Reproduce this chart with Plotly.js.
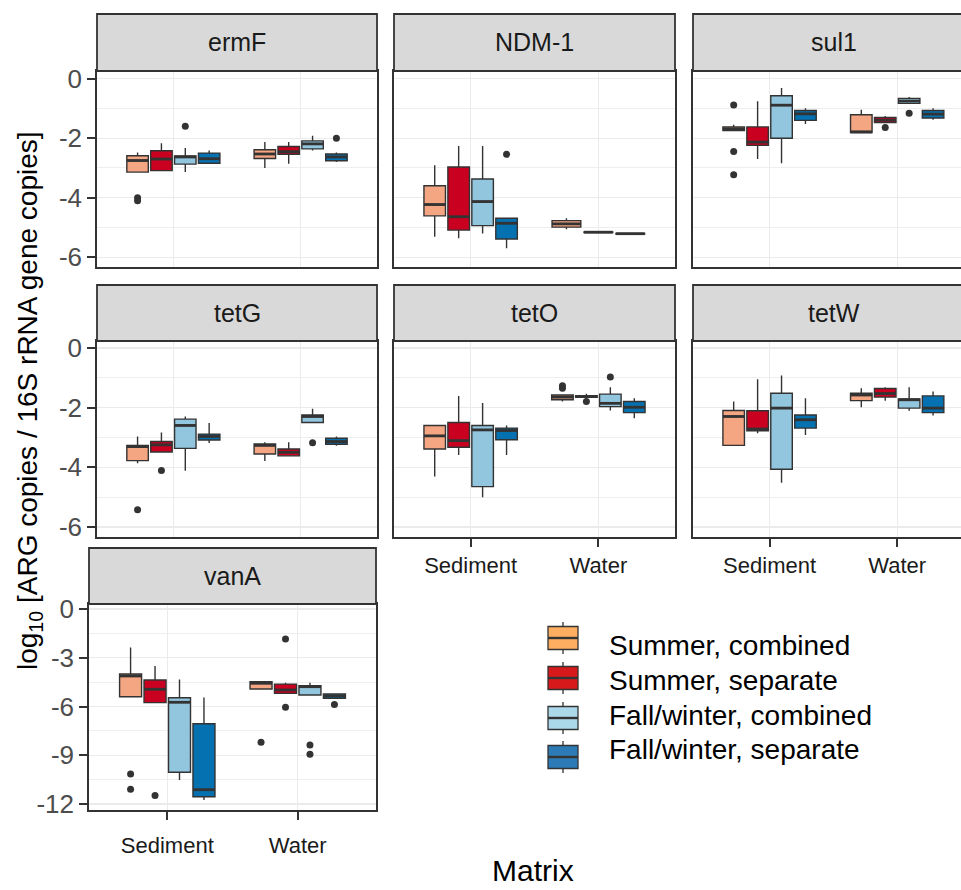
<!DOCTYPE html>
<html><head><meta charset="utf-8">
<script src="https://cdn.plot.ly/plotly-3.0.1.min.js"></script>
<style>html,body{margin:0;padding:0;background:#fff;overflow:hidden}</style>
</head><body><div id="chart" style="width:961px;height:890px"></div>
<script>
// ---------------- data ----------------
const genes = ['ermF', 'NDM-1', 'sul1', 'tetG', 'tetO', 'tetW', 'vanA'];
const matrices = ['Sediment', 'Water'];
const groups = ['Summer, combined', 'Summer, separate', 'Fall/winter, combined', 'Fall/winter, separate'];
const boxColors = ['#F4A582', '#CA0020', '#92C5DE', '#0571B0'];
const legendColors = ['#FDAE61', '#D7191C', '#ABD9E9', '#2C7BB6'];

// [matrix index, group index, lower whisker, q1, median, q3, upper whisker]
const statsErmF = [
  [0,0,-3.14,-3.14,-2.75,-2.59,-2.48],[0,1,-3.09,-3.09,-2.70,-2.42,-2.17],
  [0,2,-3.14,-2.87,-2.63,-2.60,-2.33],[0,3,-2.87,-2.84,-2.69,-2.50,-2.41],
  [1,0,-3.00,-2.68,-2.53,-2.39,-2.13],[1,1,-2.86,-2.54,-2.45,-2.28,-2.13],
  [1,2,-2.41,-2.36,-2.19,-2.09,-1.92],[1,3,-2.80,-2.76,-2.63,-2.53,-2.48]];
const statsNDM1 = [
  [0,0,-5.31,-4.61,-4.23,-3.60,-2.91],[0,1,-5.36,-5.09,-4.64,-2.97,-2.26],
  [0,2,-5.20,-4.94,-4.13,-3.37,-2.26],[0,3,-5.70,-5.39,-4.86,-4.69,-4.69],
  [1,0,-5.06,-4.99,-4.88,-4.77,-4.69],[1,1,-5.17,-5.17,-5.16,-5.15,-5.15],
  [1,3,-5.22,-5.22,-5.21,-5.20,-5.20]];
const statsSul1 = [
  [0,0,-1.74,-1.74,-1.68,-1.62,-1.55],[0,1,-2.70,-2.24,-2.13,-1.62,-0.76],
  [0,2,-2.84,-2.00,-0.89,-0.57,-0.31],[0,3,-1.52,-1.40,-1.18,-1.07,-0.99],
  [1,0,-1.81,-1.81,-1.79,-1.21,-1.04],[1,1,-1.47,-1.47,-1.39,-1.30,-1.25],
  [1,2,-0.83,-0.83,-0.75,-0.66,-0.61],[1,3,-1.38,-1.32,-1.19,-1.07,-0.99]];
const statsTetG = [
  [0,0,-3.87,-3.78,-3.31,-3.27,-2.97],[0,1,-3.49,-3.49,-3.25,-3.14,-2.84],
  [0,2,-4.12,-3.37,-2.60,-2.39,-2.30],[0,3,-3.19,-3.09,-2.97,-2.89,-2.52],
  [1,0,-3.79,-3.56,-3.27,-3.22,-3.16],[1,1,-3.64,-3.62,-3.50,-3.39,-3.16],
  [1,2,-2.52,-2.50,-2.30,-2.25,-2.04],[1,3,-3.28,-3.23,-3.14,-3.03,-2.97]];
const statsTetO = [
  [0,0,-4.31,-3.39,-2.95,-2.60,-2.60],[0,1,-3.59,-3.33,-3.11,-2.50,-1.61],
  [0,2,-5.01,-4.65,-2.75,-2.60,-1.85],[0,3,-3.59,-3.08,-2.77,-2.69,-2.60],
  [1,0,-1.80,-1.74,-1.65,-1.58,-1.58],[1,1,-1.66,-1.66,-1.63,-1.60,-1.54],
  [1,2,-2.10,-1.97,-1.86,-1.55,-1.32],[1,3,-2.36,-2.17,-1.99,-1.80,-1.69]];
const statsTetW = [
  [0,0,-3.27,-3.27,-2.30,-2.10,-1.80],[0,1,-2.86,-2.78,-2.72,-2.11,-1.05],
  [0,2,-4.52,-4.07,-2.02,-1.52,-0.93],[0,3,-2.92,-2.69,-2.41,-2.25,-1.69],
  [1,0,-1.99,-1.77,-1.58,-1.52,-1.35],[1,1,-1.77,-1.65,-1.53,-1.36,-1.32],
  [1,2,-2.11,-2.02,-1.74,-1.71,-1.32],[1,3,-2.27,-2.17,-2.02,-1.61,-1.46]];
const statsVanA = [
  [0,0,-5.40,-5.40,-4.12,-4.00,-2.36],[0,1,-5.76,-5.76,-4.94,-4.37,-3.51],
  [0,2,-10.52,-10.05,-5.74,-5.46,-4.33],[0,3,-11.75,-11.55,-11.12,-7.06,-5.44],
  [1,0,-4.92,-4.92,-4.57,-4.47,-4.47],[1,1,-5.19,-5.19,-4.98,-4.62,-4.53],
  [1,2,-5.29,-5.29,-4.78,-4.72,-4.53],[1,3,-5.50,-5.50,-5.36,-5.23,-5.23]];

// outliers: [matrix index, group index, value]
const outErmF = [[0,0,-4.00],[0,0,-4.10],[0,2,-1.60],[1,3,-2.00]];
const outNDM1 = [[0,3,-2.54]];
const outSul1 = [[0,0,-0.88],[0,0,-2.45],[0,0,-3.23],[1,1,-1.64],[1,2,-1.16]];
const outTetG = [[0,0,-5.43],[0,1,-4.11],[1,2,-3.18]];
const outTetO = [[1,0,-1.27],[1,0,-1.35],[1,1,-1.80],[1,2,-0.98]];
const outTetW = [];
const outVanA = [[0,0,-10.15],[0,0,-11.10],[0,1,-11.47],[1,0,-8.20],[1,1,-1.85],[1,1,-6.05],[1,2,-8.37],[1,2,-8.94],[1,3,-5.87]];

const yTickVals = [0, -2, -4, -6];
const yTickText = ['0', '-2', '-4', '-6'];
const yMinorVals = [-1, -3, -5];
const vanTickVals = [0, -3, -6, -9, -12];
const vanTickText = ['0', '-3', '-6', '-9', '-12'];
const vanMinorVals = [-1.5, -4.5, -7.5, -10.5];

const allStats = [statsErmF, statsNDM1, statsSul1, statsTetG, statsTetO, statsTetW, statsVanA];
const allOut = [outErmF, outNDM1, outSul1, outTetG, outTetO, outTetW, outVanA];

// ---------------- layout geometry (pixels) ----------------
const W = 961, H = 890;
const FONT = 'Liberation Sans, Arial, sans-serif';
const DARK = '#333333';
const panels = [
  {x:[97,377],  y:[71,267],  strip:14,  xlab:false, ylab:true,  yr:[-6.33,0.26],  xr:[-0.6,1.6]},
  {x:[394,675], y:[71,267],  strip:14,  xlab:false, ylab:false, yr:[-6.33,0.26],  xr:[-0.6,1.6]},
  {x:[693,961], y:[71,267],  strip:14,  xlab:false, ylab:false, yr:[-6.33,0.26],  xr:[-0.6,1.5], clip:true},
  {x:[97,377],  y:[341,537], strip:285, xlab:false, ylab:true,  yr:[-6.34,0.23],  xr:[-0.6,1.6]},
  {x:[394,675], y:[341,537], strip:285, xlab:true,  ylab:false, yr:[-6.34,0.23],  xr:[-0.6,1.6]},
  {x:[693,961], y:[341,537], strip:285, xlab:true,  ylab:false, yr:[-6.34,0.23],  xr:[-0.6,1.5], clip:true},
  {x:[89,376],  y:[604,810], strip:548, xlab:true,  ylab:true,  yr:[-12.37,0.31], xr:[-0.6,1.6], van:true}
];
const px = v => v / W;
const py = v => 1 - v / H;

const traces = [];
const layout = {
  width: W, height: H, margin: {l:0, r:0, t:0, b:0},
  paper_bgcolor: '#fff', plot_bgcolor: '#fff',
  showlegend: false, boxmode: 'overlay',
  font: {family: FONT, color: '#1A1A1A'},
  shapes: [], annotations: []
};

panels.forEach((p, i) => {
  const sfx = i === 0 ? '' : String(i + 1);
  const xa = 'x' + sfx, ya = 'y' + sfx;
  layout['xaxis' + sfx] = {
    domain: [px(p.x[0]), px(p.x[1])], range: p.xr, anchor: ya,
    tickmode: 'array', tickvals: [0, 1], ticktext: matrices,
    showticklabels: p.xlab, ticks: p.xlab ? 'outside' : '', ticklen: 8, tickwidth: 2, tickcolor: DARK,
    ticklabelstandoff: p.van ? 7 : 0,
    tickfont: {size: 22, color: '#1A1A1A', family: FONT},
    showgrid: true, gridcolor: '#EBEBEB', gridwidth: 1.3, zeroline: false,
    showline: true, linecolor: DARK, linewidth: 1.8, mirror: true, fixedrange: true
  };
  layout['yaxis' + sfx] = {
    domain: [py(p.y[1]), py(p.y[0])], range: p.yr, anchor: xa,
    tickmode: 'array', tickvals: p.van ? vanTickVals : yTickVals, ticktext: p.van ? vanTickText : yTickText,
    showticklabels: p.ylab, ticks: p.ylab ? 'outside' : '', ticklen: 8, tickwidth: 2, tickcolor: DARK,
    tickfont: {size: 26, color: '#4D4D4D', family: FONT},
    minor: {tickmode: 'array', tickvals: p.van ? vanMinorVals : yMinorVals, showgrid: true, gridcolor: '#EEEEEE', gridwidth: 1, ticks: ''},
    showgrid: true, gridcolor: '#EBEBEB', gridwidth: 1.3, zeroline: false,
    showline: true, linecolor: DARK, linewidth: 1.8, mirror: p.clip ? false : true, fixedrange: true
  };
  // strip
  const sx1 = p.clip ? p.x[0] + 281 : p.x[1];
  layout.shapes.push({type: 'rect', xref: 'paper', yref: 'paper',
    x0: px(p.x[0]), x1: px(sx1), y0: py(p.y[0]), y1: py(p.strip),
    fillcolor: '#D9D9D9', line: {color: DARK, width: 1.8}});
  layout.annotations.push({xref: 'paper', yref: 'paper', x: px((p.x[0] + sx1) / 2), y: py((p.strip + p.y[0]) / 2),
    text: genes[i], showarrow: false, xanchor: 'center', yanchor: 'middle',
    font: {size: 25, color: '#1A1A1A', family: FONT}});

  // boxes (dodged within each matrix)
  const stats = allStats[i];
  const pos = {};
  matrices.forEach((m, mi) => {
    const rows = stats.filter(r => r[0] === mi);
    const n = rows.length, slot = 0.75 / n;
    rows.forEach((r, k) => { pos[mi + '_' + r[1]] = {x: mi + (k - (n - 1) / 2) * slot, w: slot * 0.9}; });
  });
  const medX = [], medY = [];
  stats.forEach(r => {
    const q = pos[r[0] + '_' + r[1]];
    traces.push({type: 'box', xaxis: xa, yaxis: ya, name: groups[r[1]],
      x: [q.x], lowerfence: [r[2]], q1: [r[3]], median: [r[4]], q3: [r[5]], upperfence: [r[6]],
      width: q.w, whiskerwidth: 0, boxpoints: false,
      fillcolor: boxColors[r[1]], line: {color: DARK, width: 1.4}, hoverinfo: 'y'});
    medX.push(q.x - q.w / 2, q.x + q.w / 2, null);
    medY.push(r[4], r[4], null);
  });
  traces.push({type: 'scatter', mode: 'lines', xaxis: xa, yaxis: ya, x: medX, y: medY,
    line: {color: DARK, width: 2.8}, hoverinfo: 'skip'});
  const outs = allOut[i];
  if (outs.length) {
    traces.push({type: 'scatter', mode: 'markers', xaxis: xa, yaxis: ya,
      x: outs.map(o => pos[o[0] + '_' + o[1]].x), y: outs.map(o => o[2]),
      marker: {color: DARK, size: 7}, hoverinfo: 'y'});
  }
});

// axis titles
layout.annotations.push({xref: 'paper', yref: 'paper', x: px(30), y: py(401), textangle: -90,
  text: 'log<sub>10</sub> [ARG copies / 16S rRNA gene copies]', showarrow: false,
  xanchor: 'center', yanchor: 'middle', font: {size: 28, color: '#000', family: FONT}});
layout.annotations.push({xref: 'paper', yref: 'paper', x: px(533), y: py(870),
  text: 'Matrix', showarrow: false, xanchor: 'center', yanchor: 'middle',
  font: {size: 30, color: '#000', family: FONT}});

// legend (custom keys)
const keyCenters = [638, 678, 718, 757];
const textCenters = [643, 678, 713, 747];
groups.forEach((g, k) => {
  const c = keyCenters[k];
  layout.shapes.push({type: 'line', xref: 'paper', yref: 'paper', x0: px(563), x1: px(563), y0: py(c - 16), y1: py(c + 16), line: {color: DARK, width: 1.3}});
  layout.shapes.push({type: 'rect', xref: 'paper', yref: 'paper', x0: px(548), x1: px(578), y0: py(c + 11.5), y1: py(c - 11.5),
    fillcolor: legendColors[k], line: {color: DARK, width: 1.3}});
  layout.shapes.push({type: 'line', xref: 'paper', yref: 'paper', x0: px(548), x1: px(578), y0: py(c), y1: py(c), line: {color: DARK, width: 2.4}});
  layout.annotations.push({xref: 'paper', yref: 'paper', x: px(607), y: py(textCenters[k] + 2), text: g, showarrow: false,
    xanchor: 'left', yanchor: 'middle', font: {size: 28, color: '#000', family: FONT}});
});

Plotly.newPlot('chart', traces, layout, {staticPlot: true, displayModeBar: false});
</script></body></html>
